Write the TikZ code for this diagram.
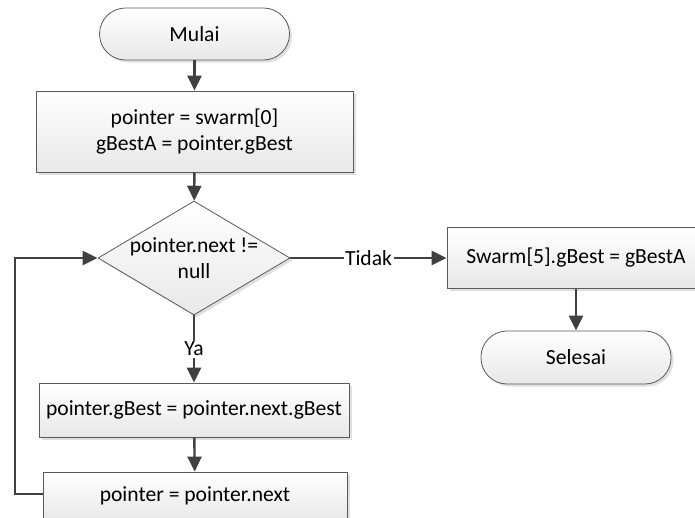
\documentclass[tikz,border=0pt]{standalone}
\usepackage{fontspec}
\setmainfont{Carlito}
\usetikzlibrary{shapes.geometric,shadows,arrows.meta}
\definecolor{arr}{HTML}{404040}
\definecolor{brd}{HTML}{5A5A5A}
\tikzset{
  box/.style={draw=brd,line width=0.8pt,top color=white,bottom color=black!9,
    drop shadow={shadow xshift=2.5pt,shadow yshift=-2.5pt,opacity=0.2,fill=black!60},
    inner sep=0pt,align=center,font=\fontsize{21.6}{26}\selectfont},
  term/.style={box,rounded corners=26pt},
  dec/.style={box,diamond,aspect=1.684},
  arrowline/.style={draw=arr,line width=2.4pt,-{Triangle[length=15pt,width=14pt]}},
  lbl/.style={fill=white,inner sep=1.5pt,text=black,font=\fontsize{21.6}{26}\selectfont}
}
\begin{document}
\begin{tikzpicture}[x=1pt,y=-1pt]
\useasboundingbox (0,0) rectangle (695,517);
\clip (0,0) rectangle (695,517);
\node[term,minimum width=190pt,minimum height=52pt] (start) at (194.5,34) {Mulai};
\node[box,minimum width=317pt,minimum height=81pt] (b1) at (194.5,131.5) {pointer = swarm[0]\\gBestA = pointer.gBest};
\node[dec,minimum width=192pt,minimum height=114pt,
  label={[align=center,font=\fontsize{21.6}{26}\selectfont]center:pointer.next !=\\null}] (d) at (194,258) {};
\node[box,minimum width=310pt,minimum height=54pt] (b3) at (194,410) {pointer.gBest = pointer.next.gBest};
\node[box,minimum width=304pt,minimum height=48pt] (b4) at (195,496) {pointer = pointer.next};
\node[box,minimum width=258pt,minimum height=61pt] (sw) at (576,258) {Swarm[5].gBest = gBestA};
\node[term,minimum width=190pt,minimum height=53pt] (end) at (576,357.5) {Selesai};
\coordinate (lb) at (15,494);
\coordinate (lt) at (15,258);
\draw[arrowline] (start) -- (b1);
\draw[arrowline] (b1) -- (d);
\draw[arrowline] (d) -- node[lbl]{Ya} (b3);
\draw[arrowline] (b3) -- (b4);
\draw[arrowline] (d) -- node[lbl]{Tidak} (sw);
\draw[arrowline] (sw) -- (end);
\draw[arrowline] (b4.west |- lb) -- (lb) -- (lt) -- (d.west);
\end{tikzpicture}
\end{document}
